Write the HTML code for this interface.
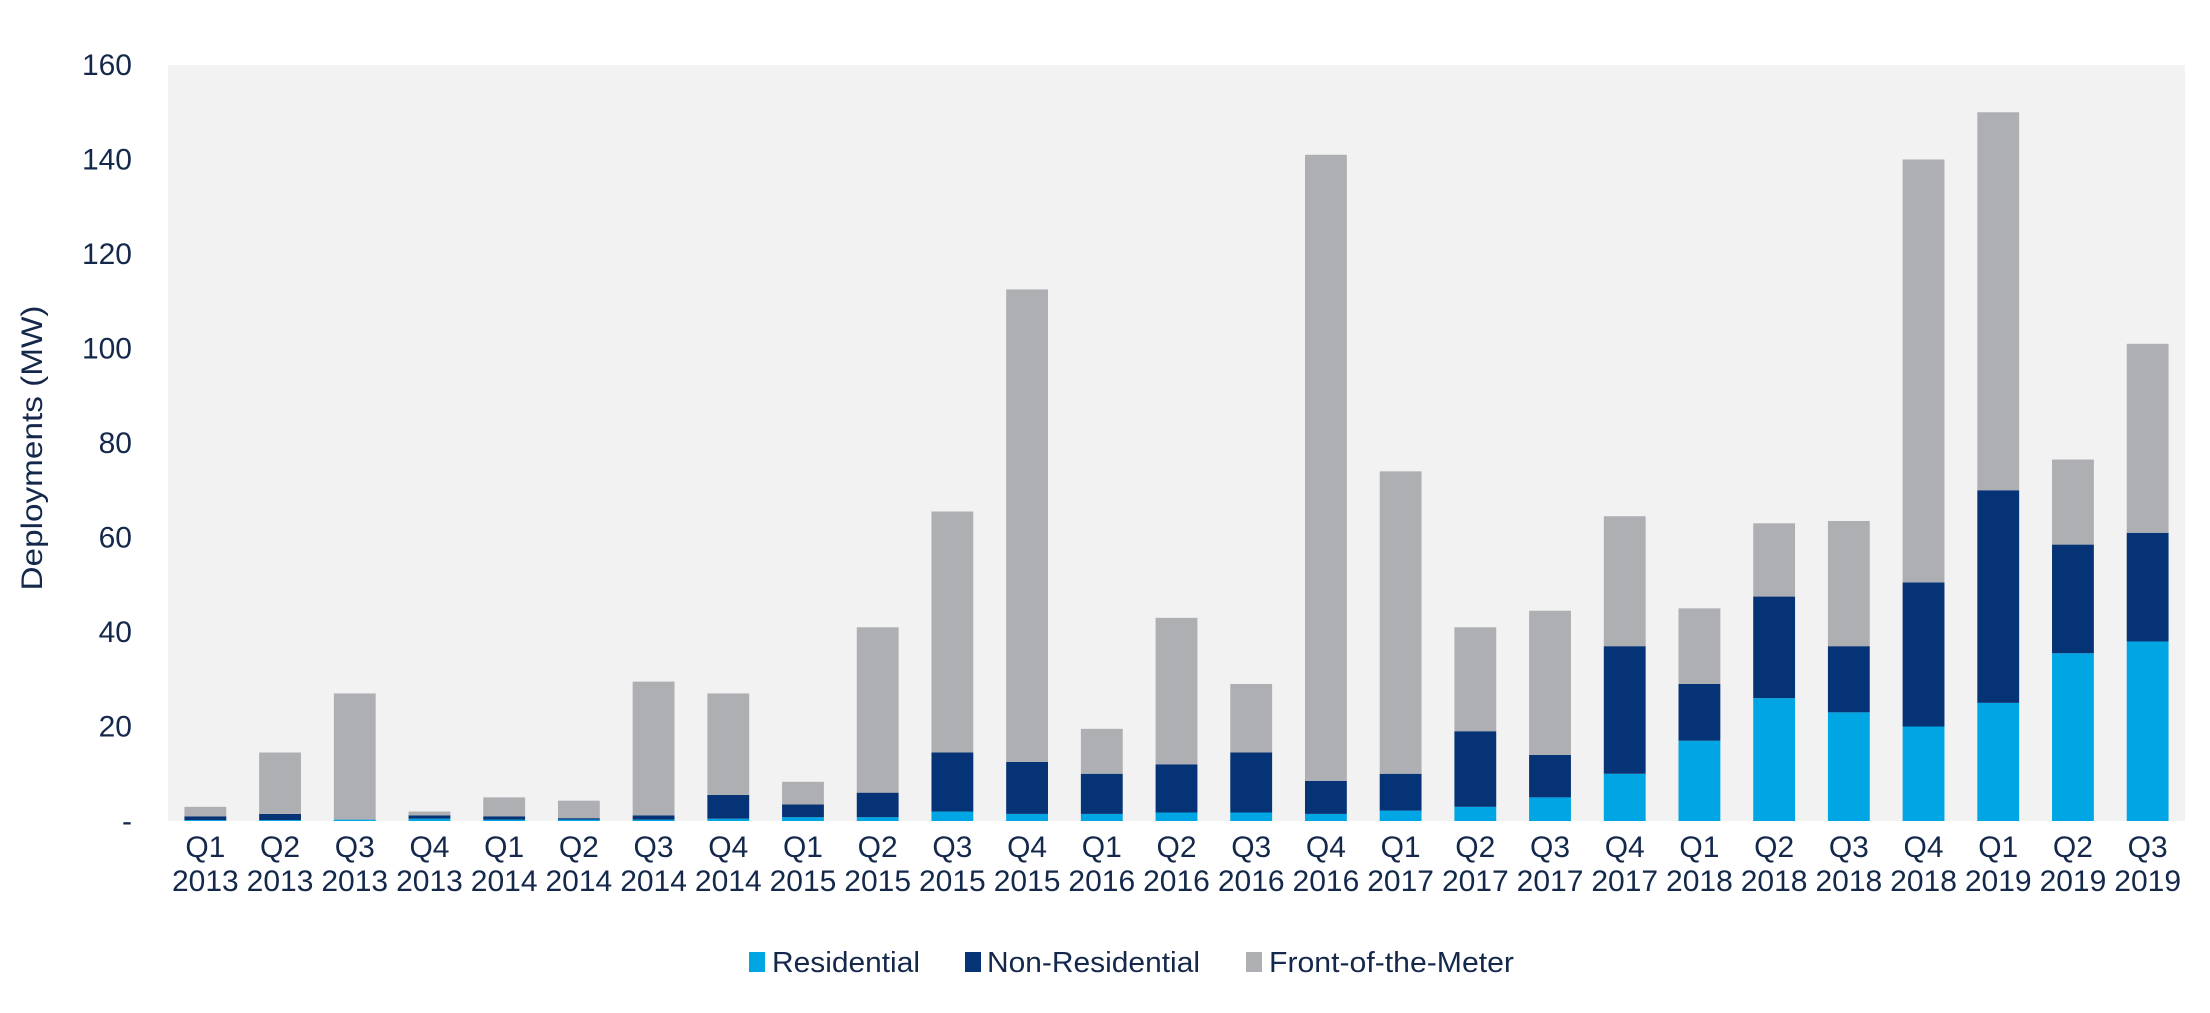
<!DOCTYPE html>
<html><head><meta charset="utf-8"><style>
html,body{margin:0;padding:0;background:#fff;}
svg{display:block;}
</style></head><body>
<svg id="chart" width="2210" height="1013" viewBox="0 0 2210 1013" xmlns="http://www.w3.org/2000/svg">
<rect x="168" y="65" width="2017" height="756" fill="#F2F2F2"/>
<g id="bars"></g>
<g id="yticks"></g>
<g id="xticks"></g>
<text transform="translate(42,448) rotate(-90)" text-anchor="middle" font-family="Liberation Sans, sans-serif" font-size="30" fill="#14284B" textLength="285" lengthAdjust="spacingAndGlyphs">Deployments (MW)</text>
<g font-family="Liberation Sans, sans-serif" font-size="29" fill="#14284B">
<g><rect x="749" y="952" width="16" height="20" fill="#00A5E3"/><text x="772" y="972" textLength="148" lengthAdjust="spacingAndGlyphs">Residential</text></g>
<g><rect x="965" y="952" width="16" height="20" fill="#063375"/><text x="987" y="972" textLength="213" lengthAdjust="spacingAndGlyphs">Non-Residential</text></g>
<g><rect x="1246" y="952" width="16" height="20" fill="#AEAFB2"/><text x="1269" y="972" textLength="245" lengthAdjust="spacingAndGlyphs">Front-of-the-Meter</text></g>
</g>
</svg>
<script>
const quarters = ["Q1","Q2","Q3","Q4","Q1","Q2","Q3","Q4","Q1","Q2","Q3","Q4","Q1","Q2","Q3","Q4","Q1","Q2","Q3","Q4","Q1","Q2","Q3","Q4","Q1","Q2","Q3"];
const years = ["2013","2013","2013","2013","2014","2014","2014","2014","2015","2015","2015","2015","2016","2016","2016","2016","2017","2017","2017","2017","2018","2018","2018","2018","2019","2019","2019"];
const residential = [0.2,0.2,0.3,0.5,0.3,0.3,0.3,0.5,0.8,0.8,2,1.5,1.5,1.8,1.8,1.5,2.2,3,5,10,17,26,23,20,25,35.5,38];
const nonResidential = [0.8,1.3,0,0.7,0.7,0.3,0.9,5,2.7,5.2,12.5,11,8.5,10.2,12.7,7,7.8,16,9,27,12,21.5,14,30.5,45,23,23];
const frontOfMeter = [2,13,26.7,0.8,4,3.7,28.3,21.5,4.8,35,51,100,9.5,31,14.5,132.5,64,22,30.5,27.5,16,15.5,26.5,89.5,80,18,40];
const yTickValues = [0,20,40,60,80,100,120,140,160];
const yTickLabels = ["-","20","40","60","80","100","120","140","160"];

const NS = "http://www.w3.org/2000/svg";
const plotL = 168, plotR = 2185, plotT = 65, plotB = 821, yMax = 160;
const band = (plotR - plotL) / quarters.length;
const barW = band * 0.56;
function yScale(v){ return plotB - v / yMax * (plotB - plotT); }
function xCenter(i){ return plotL + band * (i + 0.5); }
function mk(tag, attrs){ const e = document.createElementNS(NS, tag); for (const k in attrs) e.setAttribute(k, attrs[k]); return e; }

const barsG = document.getElementById('bars');
const series = [[residential,"#00A5E3","residential"],[nonResidential,"#063375","non-residential"],[frontOfMeter,"#AEAFB2","front-of-the-meter"]];
for (let i = 0; i < quarters.length; i++) {
  let base = 0;
  for (const [arr, col, nm] of series) {
    const v = arr[i];
    const y0 = yScale(base), y1 = yScale(base + v);
    const r = mk('rect', {x: xCenter(i) - barW/2, y: y1, width: barW, height: Math.max(0, y0 - y1), fill: col});
    
    
    barsG.appendChild(r);
    base += v;
  }
}
const yG = document.getElementById('yticks');
yTickValues.forEach((v, i) => {
  const t = mk('text', {x: 132, y: yScale(v) + 10, 'text-anchor': 'end', 'font-family': 'Liberation Sans, sans-serif', 'font-size': 30, fill: '#14284B'});
  t.textContent = yTickLabels[i];
  
  
  yG.appendChild(t);
});
const xG = document.getElementById('xticks');
quarters.forEach((q, i) => {
  const t = mk('text', {x: xCenter(i), y: 857, 'text-anchor': 'middle', 'font-family': 'Liberation Sans, sans-serif', 'font-size': 30, fill: '#14284B'});
  t.textContent = q;
  
  
  xG.appendChild(t);
  const t2 = mk('text', {x: xCenter(i), y: 891, 'text-anchor': 'middle', 'font-family': 'Liberation Sans, sans-serif', 'font-size': 30, fill: '#14284B'});
  t2.textContent = years[i];
  
  
  xG.appendChild(t2);
});
</script>
</body></html>
